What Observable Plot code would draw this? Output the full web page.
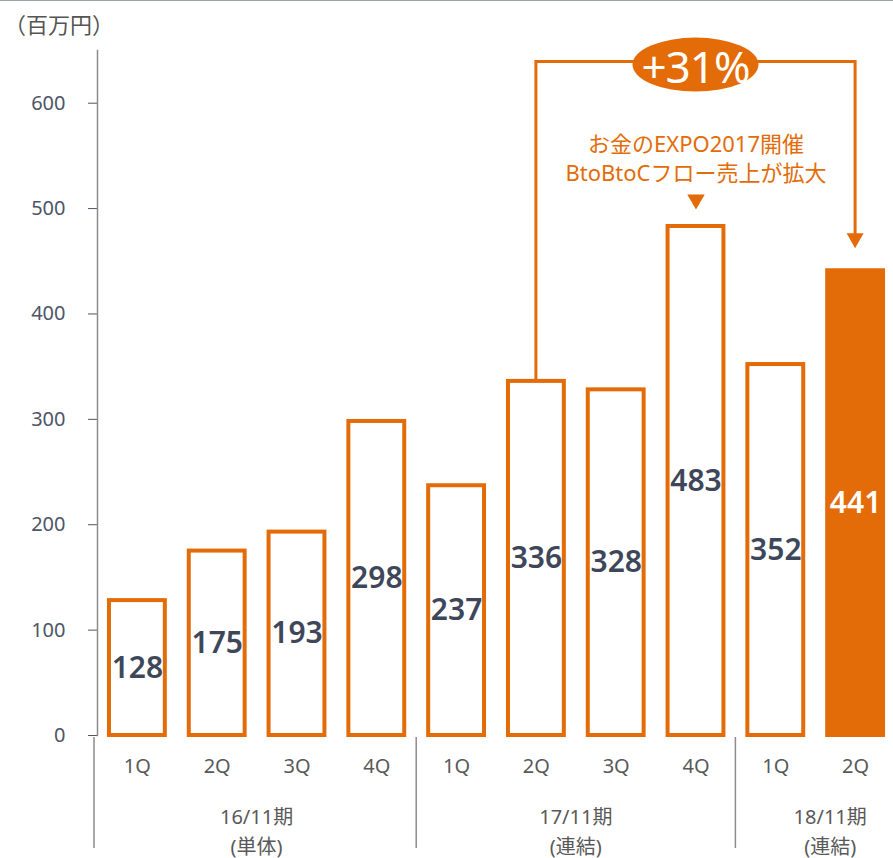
<!DOCTYPE html>
<html><head><meta charset="utf-8">
<script src="https://cdn.jsdelivr.net/npm/d3@7"></script>
<script src="https://cdn.jsdelivr.net/npm/@observablehq/plot@0.6"></script>
<style>
body{margin:0;background:#fff;}
#wrap{position:relative;width:893px;height:858px;border-top:1px solid #9ea3aa;box-sizing:border-box;overflow:hidden;}
#unit{position:absolute;left:4px;top:6px;font:22px "Noto Sans CJK JP";color:#555;}
#wrap svg{display:block;}
</style></head><body><div id="wrap"><div id="unit">（百万円）</div></div>
<script>
// ---- data ----
const keys = ["16-1Q","16-2Q","16-3Q","16-4Q","17-1Q","17-2Q","17-3Q","17-4Q","18-1Q","18-2Q"];
const quarterLabels = ["1Q","2Q","3Q","4Q","1Q","2Q","3Q","4Q","1Q","2Q"];
const periodIndex = [0,0,0,0,1,1,1,1,2,2];
const values = [128,175,193,298,237,336,328,483,352,441];
const highlighted = [false,false,false,false,false,false,false,false,false,true];
const periods = ["16/11期","17/11期","18/11期"];
const periodNotes = ["(単体)","(連結)","(連結)"];
const yTicks = [0,100,200,300,400,500,600];
const growthLabel = "+31%";
const noteLines = ["お金のEXPO2017開催","BtoBtoCフロー売上が拡大"];
const noteBar = "17-4Q";
const bracketFrom = "17-2Q", bracketTo = "18-2Q";
const bracketLevel = 639;

const ORANGE = "#E36C09";
const rows = keys.map((k,i)=>({key:k, q:quarterLabels[i], value:values[i], hl:highlighted[i], p:periodIndex[i]}));
const qOf = Object.fromEntries(rows.map(r=>[r.key,r.q]));
const valOf = Object.fromEntries(rows.map(r=>[r.key,r.value]));

function annotations(index, scales, values_, dims) {
  const x = scales.x, y = scales.y;
  const bw = typeof x.bandwidth === "function" ? x.bandwidth() : x.bandwidth;
  const cx = k => x(k) + bw/2;
  const g = d3.create("svg:g");
  const base = y(0);
  // group separators
  const starts = periods.map((p,i)=>rows.find(r=>r.p===i).key);
  const gap = (x(keys[1]) - x(keys[0])) - bw;
  starts.forEach(k=>{
    const sx = x(k) - gap/2 - (k===keys[0]?3:0);
    g.append("line").attr("x1",sx).attr("x2",sx).attr("y1",base+2).attr("y2",base+113)
      .attr("stroke","#8c8c8c").attr("stroke-width",1.5);
  });
  // group labels
  periods.forEach((p,i)=>{
    const ks = rows.filter(r=>r.p===i).map(r=>r.key);
    let mx = (cx(ks[0]) + cx(ks[ks.length-1]))/2;
    if (i===periods.length-1) mx += 15;
    const t = g.append("text").attr("text-anchor","middle").attr("fill","#595959")
      .attr("font-size",20).attr("font-family",'"Noto Sans","Noto Sans CJK JP"');
    t.append("tspan").attr("x",mx).attr("y",base+81).attr("dominant-baseline","central").text(p);
    t.append("tspan").attr("x",mx).attr("y",base+111).attr("dominant-baseline","central").text(periodNotes[i]);
  });
  // bracket
  const x1 = cx(bracketFrom), x2 = cx(bracketTo);
  const yl = y(bracketLevel);
  const tipY = y(valOf[bracketTo]) - 22;
  const headH = 15, headW = 17;
  g.append("path").attr("d",`M${x1},${y(valOf[bracketFrom])}V${yl}H${x2}V${tipY-headH+1}`)
    .attr("fill","none").attr("stroke",ORANGE).attr("stroke-width",3);
  g.append("path").attr("d",`M${x2-headW/2},${tipY-headH}L${x2+headW/2},${tipY-headH}L${x2},${tipY}Z`).attr("fill",ORANGE);
  // ellipse label
  const ex = (x1+x2)/2;
  g.append("ellipse").attr("cx",ex).attr("cy",yl+3).attr("rx",63).attr("ry",27).attr("fill",ORANGE);
  g.append("text").attr("x",ex).attr("y",yl+4).attr("text-anchor","middle").attr("dominant-baseline","central")
    .attr("fill","white").attr("font-size",44).attr("font-family",'"Noto Sans","Noto Sans CJK JP"')
    .attr("letter-spacing",-1).text(growthLabel);
  return g.node();
}

const plot = Plot.plot({
  width: 893, height: 857,
  marginTop: 49, marginBottom: 123, marginLeft: 97, marginRight: 0,
  x: {domain: keys, range: [97, 895], paddingInner: 0.3, paddingOuter: 0.15, round: false, label: null},
  y: {domain: [0, 650], label: null},
  style: {fontFamily: '"Noto Sans","Noto Sans CJK JP",sans-serif', background: "white", overflow: "visible"},
  marks: [
    Plot.axisY({ticks: yTicks, tickSize: 9, tickPadding: 23, fontSize: 20, color: "#4d5566", label: null}),
    Plot.axisX({tickSize: 0, tickPadding: 23, fontSize: 20, color: "#595959", tickFormat: k=>qOf[k], label: null}),
    Plot.frame({anchor: "left", stroke: "#8c8c8c", strokeWidth: 1.5}),
    Plot.barY(rows.filter(r=>!r.hl), {x: "key", y: "value", fill: "white", stroke: ORANGE, strokeWidth: 4}),
    Plot.barY(rows.filter(r=>r.hl), {x: "key", y: "value", fill: ORANGE, stroke: ORANGE, strokeWidth: 4}),
    Plot.text(rows.filter(r=>!r.hl), {x: "key", y: d=>d.value/2, text: d=>String(d.value), fill: "#3e475a", fontSize: 30, fontWeight: 600}),
    Plot.text(rows.filter(r=>r.hl), {x: "key", y: d=>d.value/2, text: d=>String(d.value), fill: "white", fontSize: 30, fontWeight: 600}),
    Plot.text([noteBar], {x: d=>d, y: d=>valOf[d], text: () => noteLines.join("\n"), dy: -69, lineAnchor: "middle", lineHeight: 1.32, fill: ORANGE, fontSize: 22, letterSpacing: 0.5}),
    Plot.dot([noteBar], {x: d=>d, y: d=>valOf[d], dy: -27, symbol: "triangle", rotate: 180, r: 6.5, fill: ORANGE}),
    annotations
  ]
});
document.getElementById("wrap").appendChild(plot);
</script></body></html>
